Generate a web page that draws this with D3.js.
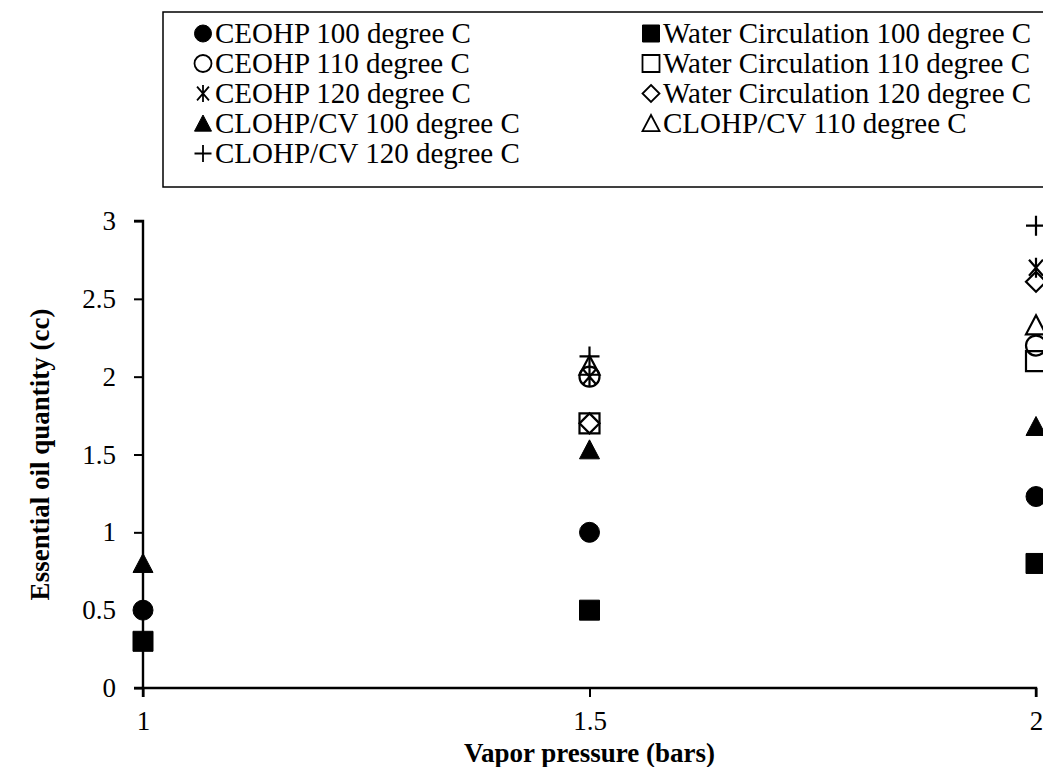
<!DOCTYPE html>
<html>
<head>
<meta charset="utf-8">
<script src="https://cdn.jsdelivr.net/npm/d3@7"></script>
<style>
  body { margin: 0; background: #fff; }
  svg { display: block; font-family: "Liberation Serif", "Times New Roman", serif; }
</style>
</head>
<body>
<div id="chart"></div>
<script>
// series data
const xTicks = [1, 1.5, 2];
const yTicks = [0, 0.5, 1, 1.5, 2, 2.5, 3];

const ceohp100 = [[1, 0.5], [1.5, 1.0], [2, 1.23]];
const wc100 = [[1, 0.3], [1.5, 0.5], [2, 0.8]];
const ceohp110 = [[1.5, 2.0], [2, 2.2]];
const wc110 = [[1.5, 1.7], [2, 2.1]];
const ceohp120 = [[1.5, 2.0], [2, 2.7]];
const wc120 = [[1.5, 1.7], [2, 2.61]];
const clohp100 = [[1, 0.8], [1.5, 1.53], [2, 1.68]];
const clohp110 = [[1.5, 2.07], [2, 2.33]];
const clohp120 = [[1.5, 2.13], [2, 2.97]];

// legend order (row by row, two columns)
const series = [
  { name: 'CEOHP 100 degree C', marker: 'circle', filled: true, data: ceohp100 },
  { name: 'Water Circulation 100 degree C', marker: 'square', filled: true, data: wc100 },
  { name: 'CEOHP 110 degree C', marker: 'circle', filled: false, data: ceohp110 },
  { name: 'Water Circulation 110 degree C', marker: 'square', filled: false, data: wc110 },
  { name: 'CEOHP 120 degree C', marker: 'star', filled: false, data: ceohp120 },
  { name: 'Water Circulation 120 degree C', marker: 'diamond', filled: false, data: wc120 },
  { name: 'CLOHP/CV 100 degree C', marker: 'triangle', filled: true, data: clohp100 },
  { name: 'CLOHP/CV 110 degree C', marker: 'triangle', filled: false, data: clohp110 },
  { name: 'CLOHP/CV 120 degree C', marker: 'plus', filled: false, data: clohp120 }
];

const width = 1043, height = 767;
const margin = { left: 143, right: 7, top: 221, bottom: 79 };
const fontSize = '27px';

const svg = d3.select('#chart').append('svg')
  .attr('width', width)
  .attr('height', height);

const x = d3.scaleLinear().domain([1, 2]).range([margin.left, width - margin.right]);
const y = d3.scaleLinear().domain([0, 3]).range([height - margin.bottom, margin.top]);

// path for a marker of a given overall size, centred on 0,0
function markerPath(type, s) {
  const h = s / 2;
  switch (type) {
    case 'circle':
      return `M${h},0A${h},${h} 0 1,1 ${-h},0A${h},${h} 0 1,1 ${h},0Z`;
    case 'square':
      return `M${-h},${-h}H${h}V${h}H${-h}Z`;
    case 'diamond':
      return `M0,${-h}L${h},0L0,${h}L${-h},0Z`;
    case 'triangle':
      return `M0,${-h}L${h},${h * 0.9}L${-h},${h * 0.9}Z`;
    case 'plus':
      return `M${-h},0H${h}M0,${-h}V${h}`;
    case 'star':
      return `M${-h * 0.7},${-h * 0.8}L${h * 0.7},${h * 0.8}M${h * 0.7},${-h * 0.8}L${-h * 0.7},${h * 0.8}M0,${-h}V${h}`;
  }
}

function drawMarker(g, s, size, sw) {
  g.append('path')
    .attr('d', markerPath(s.marker, size))
    .attr('fill', s.filled ? '#000' : 'none')
    .attr('stroke', '#000')
    .attr('stroke-width', s.filled ? 1 : sw);
}

// axes
const yAxis = d3.axisLeft(y).tickValues(yTicks).tickSize(9).tickPadding(18)
  .tickFormat(d3.format('~g'));
const xAxis = d3.axisBottom(x).tickValues(xTicks).tickSize(9).tickPadding(14)
  .tickFormat(d3.format('~g'));

const gy = svg.append('g').attr('transform', `translate(${margin.left},0)`).call(yAxis);
const gx = svg.append('g').attr('transform', `translate(0,${height - margin.bottom})`).call(xAxis);

[gx, gy].forEach(g => {
  g.select('.domain').attr('stroke', '#000').attr('stroke-width', 2.4);
  g.selectAll('.tick line').attr('stroke', '#000').attr('stroke-width', 2);
  g.selectAll('.tick text')
    .attr('fill', '#000')
    .style('font-family', '"Liberation Serif", serif')
    .style('font-size', fontSize);
});
gy.select('.domain').attr('d', `M-9,${y(3)}H0V${y(0)}H-9`);
gx.select('.domain').attr('d', `M${x(1)},9V0H${x(2)}V9`);

// axis titles
svg.append('text')
  .attr('x', x(1.5))
  .attr('y', 762)
  .attr('text-anchor', 'middle')
  .style('font-weight', 'bold')
  .style('font-size', fontSize)
  .text('Vapor pressure (bars)');

svg.append('text')
  .attr('transform', `translate(49,${(y(0) + y(3)) / 2}) rotate(-90)`)
  .attr('text-anchor', 'middle')
  .style('font-weight', 'bold')
  .style('font-size', fontSize)
  .text('Essential oil quantity (cc)');

// points
series.forEach(s => {
  s.data.forEach(d => {
    const g = svg.append('g').attr('transform', `translate(${x(d[0])},${y(d[1])})`);
    drawMarker(g, s, 20, 2.2);
  });
});

// legend (box runs off the right edge, as in the source)
const legend = svg.append('g');
legend.append('rect')
  .attr('x', 163).attr('y', 12)
  .attr('width', 900).attr('height', 175)
  .attr('fill', '#fff')
  .attr('stroke', '#000')
  .attr('stroke-width', 1.5);

series.forEach((s, i) => {
  const col = i % 2, row = Math.floor(i / 2);
  const lx = col === 0 ? 203 : 651;
  const ly = 33.5 + row * 30;
  const g = legend.append('g').attr('transform', `translate(${lx},${ly})`);
  drawMarker(g, s, 17, 1.8);
  legend.append('text')
    .attr('x', lx + 12)
    .attr('y', ly + 9.5)
    .style('font-size', '29px')
    .text(s.name);
});
</script>
</body>
</html>
